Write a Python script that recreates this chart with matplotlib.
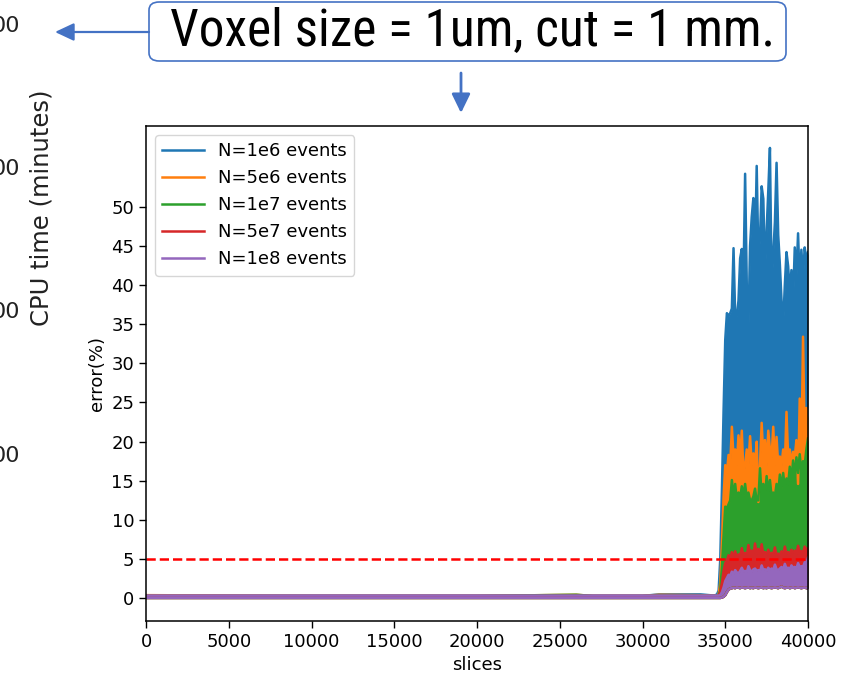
import numpy as np
import matplotlib
matplotlib.use('Agg')
import matplotlib.pyplot as plt
from matplotlib.patches import FancyBboxPatch, FancyArrowPatch
from matplotlib import font_manager

# slice positions: sparse over the flat part, every 100 slices in the noisy tail
slices = [0, 10000, 20000, 26000, 27000, 30000, 31000, 33500, 34300] + list(range(34400, 40001, 100))

# upper envelope of the error (%) for each run
blue_hi = [0.3, 0.3, 0.3, 0.3, 0.3, 0.3, 0.5, 0.5, 0.35,
           0.4, 0.5, 1.0, 5, 14, 24, 33, 36.4, 36.0, 36.4, 37, 44.7, 36, 36, 38, 43.4, 44.6, 40,
           54.2, 40, 34.6, 45, 48.7, 51.1, 44, 55.2, 43.5, 46, 52.6, 51.0, 41.5, 47, 52.0, 57.5,
           40.0, 44, 48, 55.6, 46.4, 42.6, 38, 35, 40, 44.2, 42.4, 39, 41.9, 38, 44.8, 41, 46.6,
           40, 44.5, 41, 44.8, 43, 44.2]
orange_hi = [0.4, 0.3, 0.3, 0.45, 0.3, 0.3, 0.45, 0.4, 0.3,
             0.3, 0.3, 0.5, 2, 7, 13, 17, 16, 18.3, 17, 21.9, 18, 19, 17, 20.8, 18, 21.4, 15.8,
             17, 19, 17, 20.7, 17, 18.5, 17, 20, 12.3, 17, 22.4, 18, 20.2, 17, 21.4, 19, 18, 21.9,
             17, 20.6, 17, 18.1, 17, 19, 17, 23.8, 18, 19, 17, 18.7, 18, 20.2, 14.6, 25.5, 18,
             33.4, 20, 24.3, 23]
green_hi = [0.3, 0.3, 0.3, 0.45, 0.3, 0.3, 0.35, 0.35, 0.3,
            0.3, 0.3, 0.4, 1.0, 4.0, 8.0, 11.7, 11.5, 12.0, 12.5, 15.1, 13, 14.6, 12.5, 13.5, 12.8,
            14.3, 13, 14.6, 12.8, 13.5, 12.5, 12.5, 13, 14.0, 12.5, 12.5, 16.6, 13, 14.6, 13, 15.6,
            13.5, 15.1, 13, 13.5, 13, 14.6, 13.5, 15.8, 14, 16.0, 14, 15.3, 14.5, 16.8, 15, 17.6,
            15.5, 18.0, 16, 18.4, 16, 17.5, 17, 19.0, 20.4]
red_hi = [0.3, 0.3, 0.3, 0.3, 0.3, 0.3, 0.3, 0.3, 0.3,
          0.3, 0.3, 0.35, 0.8, 2.0, 3.5, 4.5, 4.8, 5.5, 5.0, 5.9, 5.3, 6.0, 5.2, 5.6, 5.4, 6.4, 5.5,
          5.8, 5.3, 6.8, 5.6, 6.1, 5.4, 7.0, 5.7, 6.3, 5.5, 6.9, 5.6, 5.9, 5.4, 6.2, 5.5, 5.8, 5.6,
          6.5, 5.5, 5.7, 5.4, 6.0, 5.5, 6.6, 5.7, 5.9, 5.5, 6.2, 5.8, 6.1, 5.6, 6.7, 5.9, 6.0, 5.8,
          6.6, 6.2, 6.4]
purple_hi = [0.35, 0.35, 0.35, 0.35, 0.35, 0.35, 0.35, 0.35, 0.35,
             0.35, 0.35, 0.35, 0.4, 0.8, 1.4, 2.2, 2.6, 3.0, 2.9, 3.4, 3.1, 3.6, 3.3, 3.2, 3.5, 3.9,
             3.4, 3.5, 3.3, 4.1, 3.6, 3.4, 3.7, 3.8, 3.5, 3.6, 3.4, 4.2, 3.6, 3.7, 3.5, 3.9, 3.6,
             3.8, 3.6, 4.3, 3.7, 3.6, 3.8, 4.0, 3.7, 4.4, 3.8, 3.9, 3.7, 4.2, 3.9, 4.0, 3.8, 4.5,
             4.0, 4.1, 4.0, 4.6, 4.4, 5.2]
# lower envelope of the 1e8 run; the other runs' minima sit above it
purple_lo = [0.05, 0.05, 0.05, 0.05, 0.05, 0.05, 0.05, 0.05, 0.05,
             0.05, 0.05, 0.05, 0.05, 0.1, 0.2, 0.4, 0.8, 1.1, 1.25, 1.3, 1.35, 1.3, 1.4, 1.35, 1.3,
             1.4, 1.35, 1.3, 1.35, 1.4, 1.3, 1.35, 1.3, 1.4, 1.35, 1.3, 1.35, 1.4, 1.3, 1.35, 1.3,
             1.4, 1.35, 1.3, 1.35, 1.4, 1.35, 1.3, 1.4, 1.5, 1.35, 1.3, 1.35, 1.4, 1.3, 1.35, 1.4,
             1.3, 1.35, 1.4, 1.35, 1.3, 1.35, 1.4, 1.3, 1.3]

labels = ['N=1e6 events', 'N=5e6 events', 'N=1e7 events', 'N=5e7 events', 'N=1e8 events']
uppers = [blue_hi, orange_hi, green_hi, red_hi, purple_hi]
threshold = 5

yticks = list(range(0, 51, 5))
xticks = list(range(0, 40001, 5000))

# text of the slide behind the plot
cpu_label = 'CPU time (minutes)'
cpu_ticks = ['00', '00', '00', '00']
cpu_tick_y = [26, 169, 312, 456]
note = 'Voxel size = 1um, cut = 1 mm.'

W, H = 851, 677
fig = plt.figure(figsize=(W / 100, H / 100), dpi=100)


def fx(px):
    return px / W


def fy(py):
    return 1 - py / H


def pick_font(names):
    for n in names:
        try:
            font_manager.findfont(n, fallback_to_default=False)
            return n
        except ValueError:
            continue
    return 'DejaVu Sans'


for lab, yy in zip(cpu_ticks, cpu_tick_y):
    fig.text(fx(20), fy(yy), lab, ha='right', va='center', fontsize=16, color='#222222')
fig.text(fx(42), fy(208), cpu_label, rotation=90, ha='center', va='center', fontsize=17.5,
         color='#222222')

ax = fig.add_axes([fx(146), fy(621), fx(808) - fx(146), fy(126) - fy(621)])
colors = plt.rcParams['axes.prop_cycle'].by_key()['color']
for name, hi, c in zip(labels, uppers, colors):
    ax.fill_between(slices, purple_lo, hi, color=c, lw=0)
    ax.plot(slices, hi, color=c, lw=1.8, label=name)
    ax.plot(slices, purple_lo, color=c, lw=1.8)
ax.axhline(threshold, color='r', ls='--', lw=1.8)

ax.set_xlim(0, 40000)
ax.set_ylim(-2.9, 60.3)
ax.set_xticks(xticks)
ax.set_yticks(yticks)
ax.tick_params(labelsize=13, length=5, width=1)
for s in ax.spines.values():
    s.set_linewidth(1.1)
ax.set_xlabel('slices', fontsize=13)
ax.set_ylabel('error(%)', fontsize=13)
ax.legend(loc='upper left', fontsize=13, handlelength=2.3)

# callout box with arrows
blue_c = '#4472C4'
box = FancyBboxPatch((fx(149), fy(61)), fx(786) - fx(149), fy(2) - fy(61),
                     boxstyle='round,pad=0,rounding_size=0.012', transform=fig.transFigure,
                     facecolor='white', edgecolor=blue_c, lw=1.2)
fig.add_artist(box)
fig.text(fx(472), fy(31), note, ha='center', va='center', fontsize=37, color='black',
         family=pick_font(['Liberation Sans Narrow', 'DejaVu Sans Condensed', 'Roboto Condensed']))

arr_left = FancyArrowPatch((fx(149), fy(32)), (fx(55), fy(32)), transform=fig.transFigure,
                           arrowstyle='-|>,head_length=11.5,head_width=5.4', mutation_scale=1,
                           color=blue_c, lw=1.6, shrinkA=0, shrinkB=0)
arr_down = FancyArrowPatch((fx(461), fy(73)), (fx(461), fy(113)), transform=fig.transFigure,
                           arrowstyle='-|>,head_length=11.5,head_width=5.6', mutation_scale=1,
                           color=blue_c, lw=2.0, shrinkA=0, shrinkB=0)
fig.add_artist(arr_left)
fig.add_artist(arr_down)

fig.savefig('out.png', dpi=100)
